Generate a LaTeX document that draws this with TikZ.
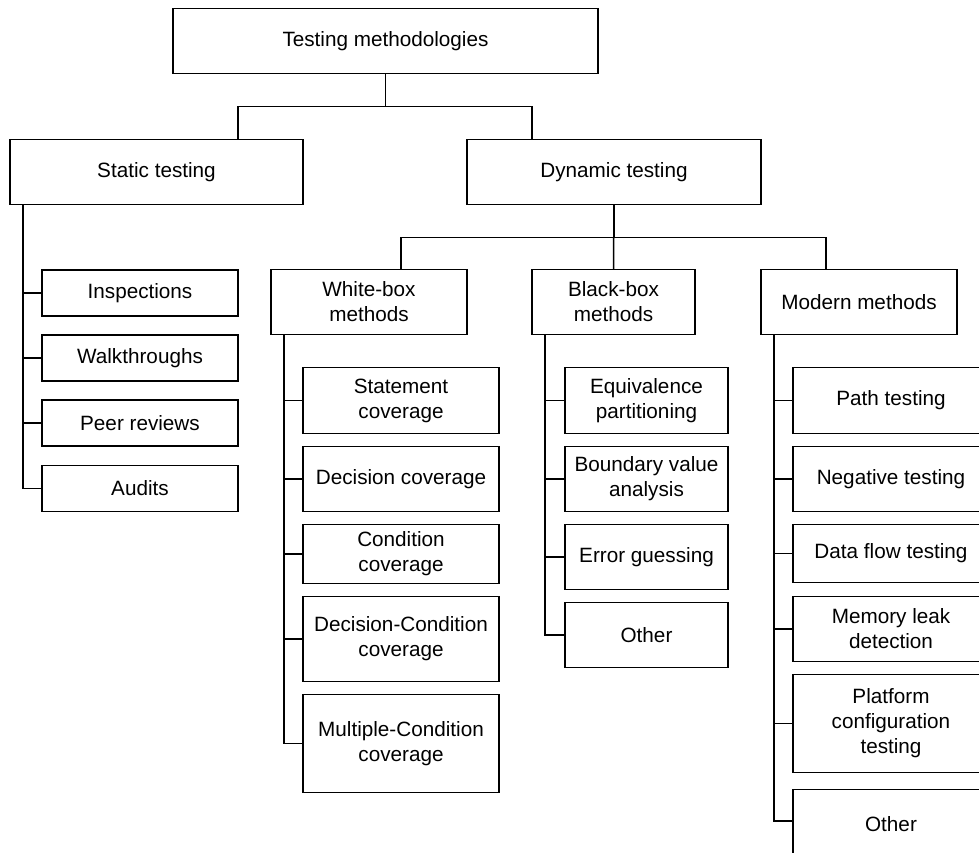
\documentclass[tikz,border=0pt]{standalone}
\usepackage{fontspec}
\setmainfont{Liberation Sans}
\usetikzlibrary{calc}

\tikzset{
  methodbox/.style={draw, rectangle, align=center, inner sep=2pt,
    line width=1.5pt, font=\fontsize{20.7}{25}\selectfont},
  sized/.style 2 args={minimum width=#1pt, minimum height=#2pt},
  link/.style={line width=1.5pt},
}

\begin{document}
\begin{tikzpicture}[x=1pt, y=-1pt]
  \clip (0,0) rectangle (979,852);

  % Root and first level
  \node[methodbox, sized={425}{65}] (root) at (385.5,41) {Testing methodologies};
  \node[methodbox, sized={293}{65}] (static) at (156.5,172) {Static testing};
  \node[methodbox, sized={294}{65}] (dynamic) at (614,172) {Dynamic testing};

  % Dynamic testing groups
  \node[methodbox, sized={196}{65}] (white) at (369,302) {White-box\\methods};
  \node[methodbox, sized={163}{65}] (black) at (613.5,302) {Black-box\\methods};
  \node[methodbox, sized={196}{65}] (modern) at (859,302) {Modern methods};

  % Static testing leaves
  \node[methodbox, sized={196}{46}] (insp) at (140,293) {Inspections};
  \node[methodbox, sized={196}{46}] (walk) at (140,358) {Walkthroughs};
  \node[methodbox, sized={196}{46}] (peer) at (140,423) {Peer reviews};
  \node[methodbox, sized={196}{46}] (audit) at (140,488.5) {Audits};

  % White-box leaves
  \node[methodbox, sized={196}{66}] (stmt) at (401,400.5) {Statement\\coverage};
  \node[methodbox, sized={196}{65}] (dec) at (401,479) {Decision coverage};
  \node[methodbox, sized={196}{59}] (cond) at (401,554) {Condition\\coverage};
  \node[methodbox, sized={196}{85}] (deccond) at (401,639) {Decision-Condition\\coverage};
  \node[methodbox, sized={196}{98}] (multi) at (401,743.5) {Multiple-Condition\\coverage};

  % Black-box leaves
  \node[methodbox, sized={163}{66}] (equiv) at (646.5,400.5) {Equivalence\\partitioning};
  \node[methodbox, sized={163}{65}] (bound) at (646.5,479) {Boundary value\\analysis};
  \node[methodbox, sized={163}{65}] (guess) at (646.5,557) {Error guessing};
  \node[methodbox, sized={163}{65}] (bother) at (646.5,635) {Other};

  % Modern leaves
  \node[methodbox, sized={196}{66}] (path) at (891,400.5) {Path testing};
  \node[methodbox, sized={196}{65}] (neg) at (891,479) {Negative testing};
  \node[methodbox, sized={196}{58}] (flow) at (891,553.5) {Data flow testing};
  \node[methodbox, sized={196}{65}] (leak) at (891,629) {Memory leak\\detection};
  \node[methodbox, sized={196}{98}] (plat) at (891,723.5) {Platform\\configuration\\testing};
  \node[methodbox, sized={196}{70}] (mother) at (891,824.5) {Other};

  % Bus points
  \coordinate (rS) at (238,106.5);
  \coordinate (rD) at (532,106.5);
  \coordinate (dW) at (401,237.5);
  \coordinate (dM) at (826,237.5);
  \coordinate (tS) at (23,0);
  \coordinate (tW) at (284,0);
  \coordinate (tB) at (545,0);
  \coordinate (tM) at (774,0);

  % Connectors
  \draw[link] (root.south) |- (rS) -- (rS |- static.north);
  \draw[link] (root.south) |- (rD) -- (rD |- dynamic.north);
  \draw[link] (dynamic.south) |- (dW) -- (dW |- white.north);
  \draw[link] (dynamic.south) |- (dM) -- (dM |- modern.north);
  \draw[link] (dynamic.south) -- (black.north);
  \foreach \n in {insp,walk,peer,audit}
    \draw[link] (tS |- static.south) |- (\n.west);
  \foreach \n in {stmt,dec,cond,deccond,multi}
    \draw[link] (tW |- white.south) |- (\n.west);
  \foreach \n in {equiv,bound,guess,bother}
    \draw[link] (tB |- black.south) |- (\n.west);
  \foreach \n in {path,neg,flow,leak,plat}
    \draw[link] (tM |- modern.south) |- (\n.west);
  \draw[link] (tM |- modern.south) |- ([yshift=3.5pt]mother.west);
\end{tikzpicture}
\end{document}
